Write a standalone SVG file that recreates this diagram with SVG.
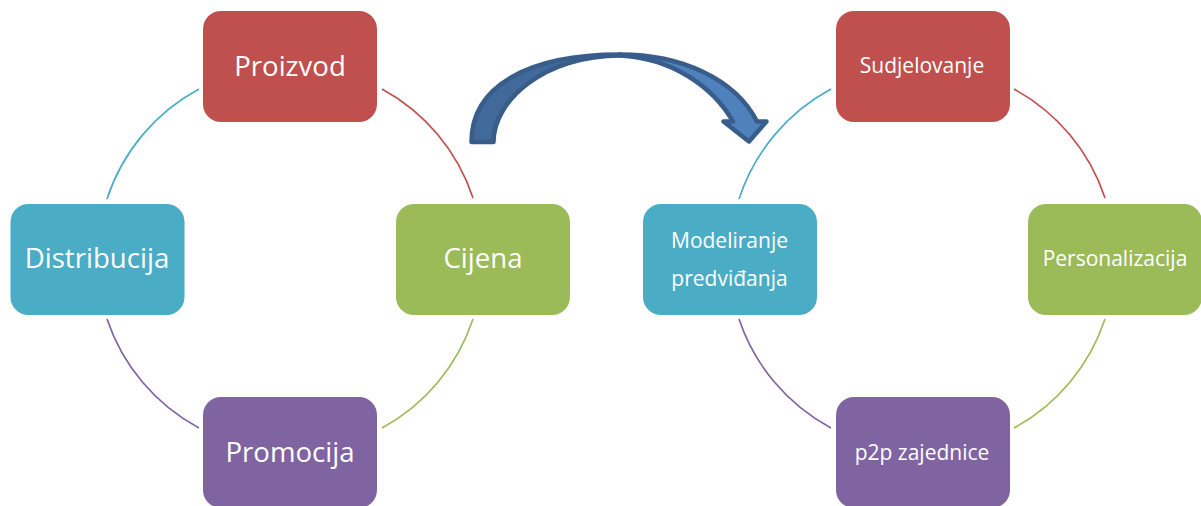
<svg xmlns="http://www.w3.org/2000/svg" width="1201" height="506" viewBox="0 0 1201 506">
<style>
.n{stroke:none}
.r{fill:#C0504D}.g{fill:#9BBB59}.p{fill:#8064A2}.t{fill:#4BACC6}
text{font-family:"Open Sans","Noto Sans",sans-serif;fill:#fff;text-anchor:middle}
.big{font-size:27.6px}
.small{font-size:21px}
#connectors path{fill:none;stroke-width:1.7}
#arrow path{stroke:#385D8A;stroke-width:4.5px;stroke-linejoin:round}
</style>
<rect width="1201" height="506" fill="#fff"/>
<g id="connectors">
<path d="M382 89A193 193 0 0 1 473 198" stroke="#C0504D"/>
<path d="M473 319A193 193 0 0 1 382 428" stroke="#9BBB59"/>
<path d="M199 428A193 193 0 0 1 107 319" stroke="#8064A2"/>
<path d="M107 199A193 193 0 0 1 199 89" stroke="#4BACC6"/>
<path d="M1014 89A193 193 0 0 1 1105 198" stroke="#C0504D"/>
<path d="M1105 319A193 193 0 0 1 1014 428" stroke="#9BBB59"/>
<path d="M831 428A193 193 0 0 1 739 319" stroke="#8064A2"/>
<path d="M739 199A193 193 0 0 1 831 89" stroke="#4BACC6"/>
</g>
<g id="arrow">
<path d="M620 54.500C680 54.500 735 78 757 121.500L766.500 121.500L749 141.500L723.500 121.500L733 121.500C712 85 670 58 620 55.500Z" fill="#4F81BD"/>
<path d="M471.500 142C471.500 85 530 54.500 620 54.500L620 55.500C545 55.500 493.500 100 493.500 142Z" fill="#41699A"/>
</g>
<g id="proizvod"><rect class="n r" x="203" y="11" width="174" height="111" rx="18"/><text class="big" x="290" y="76">Proizvod</text></g>
<g id="cijena"><rect class="n g" x="396" y="204" width="174" height="111" rx="18"/><text class="big" x="483" y="268">Cijena</text></g>
<g id="promocija"><rect class="n p" x="203" y="397" width="174" height="111" rx="18"/><text class="big" x="290" y="462">Promocija</text></g>
<g id="distribucija"><rect class="n t" x="10.500" y="204" width="174" height="111" rx="18"/><text class="big" x="97" y="268">Distribucija</text></g>
<g id="sudjelovanje"><rect class="n r" x="836" y="11" width="174" height="111" rx="18"/><text class="small" x="922" y="73">Sudjelovanje</text></g>
<g id="personalizacija"><rect class="n g" x="1028" y="204" width="174" height="111" rx="18"/><text class="small" x="1115" y="266">Personalizacija</text></g>
<g id="p2p"><rect class="n p" x="836" y="397" width="174" height="111" rx="18"/><text class="small" x="922" y="460">p2p zajednice</text></g>
<g id="modeliranje"><rect class="n t" x="643" y="204" width="174" height="111" rx="18"/><text class="small" x="729.500" y="248">Modeliranje</text><text class="small" x="729.500" y="286">predviđanja</text></g>
</svg>
